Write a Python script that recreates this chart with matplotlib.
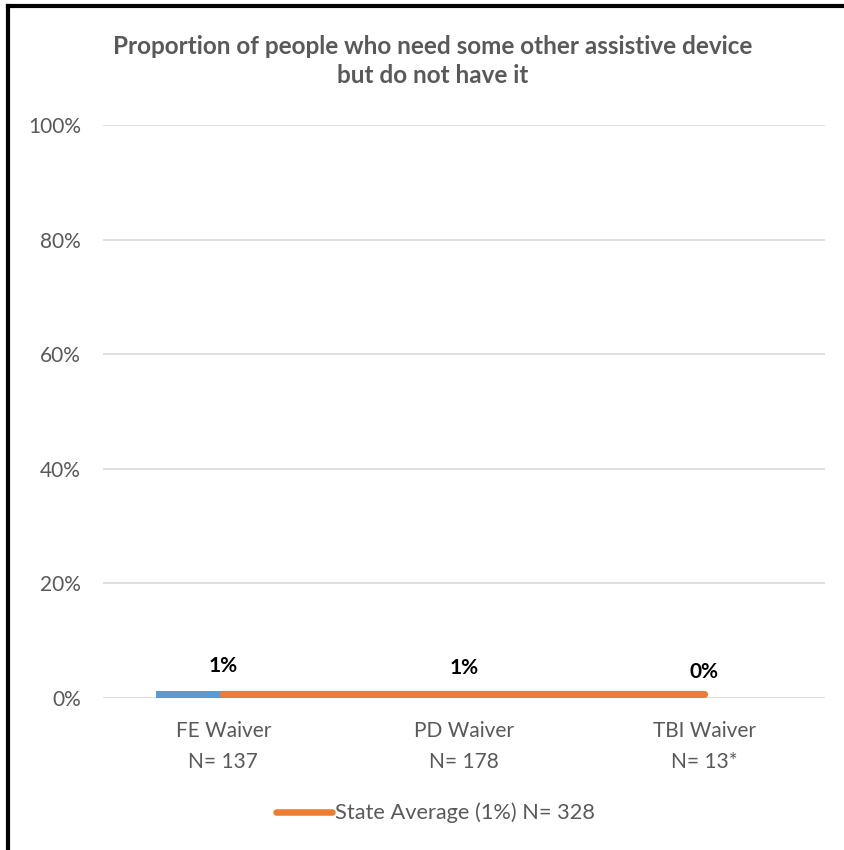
import matplotlib.pyplot as plt
import matplotlib.lines as mlines

# chart data
categories = ['FE Waiver\nN= 137', 'PD Waiver\nN= 178', 'TBI Waiver\nN= 13*']
values = [1.15, 0.8, 0.0]
value_labels = ['1%', '1%', '0%']
state_avg = [0.7, 0.7, 0.7]
legend_label = 'State Average (1%) N= 328'
title = 'Proportion of people who need some other assistive device\nbut do not have it'
yticks = [0, 20, 40, 60, 80, 100]

plt.rcParams['font.family'] = ['Lato', 'DejaVu Sans']
gray = '#595959'
orange = '#ED7D31'

fig = plt.figure(figsize=(8.45, 8.5), dpi=100)
ax = fig.add_axes([0.122, 0.179, 0.854, 0.674])

x = range(len(categories))
ax.bar(x, values, width=0.56, color='#5B9BD5', zorder=2)
ax.plot(x, state_avg, color=orange, linewidth=5.2, solid_capstyle='round', zorder=3)

for i, (v, lab) in enumerate(zip(values, value_labels)):
    ax.annotate(lab, (i, v), xytext=(0, 18.5), textcoords='offset points',
                ha='center', va='center', fontsize=15, fontweight='bold', color='black')

ax.set_xlim(-0.5, 2.5)
ax.set_ylim(0, 100)
ax.set_yticks(yticks)
ax.set_yticklabels([f'{t}%' for t in yticks], fontsize=15, color=gray)
ax.set_xticks(list(x))
ax.set_xticklabels(categories, fontsize=15, color=gray, linespacing=1.65)
ax.tick_params(axis='y', length=0, pad=16)
ax.tick_params(axis='x', length=0, pad=17)
ax.grid(axis='y', color='#d9d9d9', linewidth=1.2, zorder=0)
ax.set_axisbelow(True)
for s in ax.spines.values():
    s.set_visible(False)

fig.text(0.512, 0.928, title, ha='center', va='center', fontsize=17.5,
         fontweight='bold', color=gray, linespacing=1.3)

handle = mlines.Line2D([], [], color=orange, linewidth=4.7, solid_capstyle='round')
fig.legend([handle], [legend_label], loc='center', bbox_to_anchor=(0.515, 0.0435),
           frameon=False, fontsize=15.7, labelcolor=gray, handlelength=2.6,
           handletextpad=0.1)

# black border on top and left like the original screenshot
fig.add_artist(mlines.Line2D([0.009, 1], [0.9925, 0.9925], color='black', linewidth=3,
                             transform=fig.transFigure))
fig.add_artist(mlines.Line2D([0.0095, 0.0095], [0, 0.9925], color='black', linewidth=3,
                             transform=fig.transFigure))

fig.savefig('out.png', dpi=100)
